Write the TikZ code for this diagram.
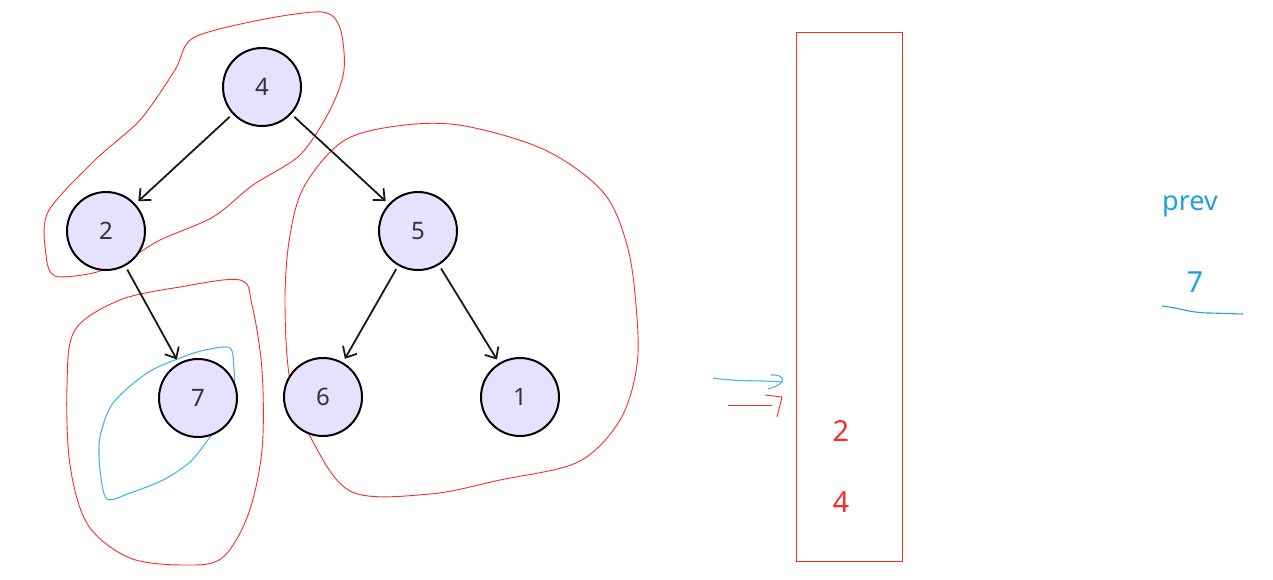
\documentclass[tikz,border=0pt]{standalone}
\usepackage{fontspec}
\setmainfont{Noto Sans}
\usetikzlibrary{arrows.meta}
\definecolor{nodefill}{HTML}{E6E1FF}
\definecolor{hred}{HTML}{FF2A2A}
\definecolor{hblue}{HTML}{1E9FE6}
\definecolor{lblue}{HTML}{45B4F0}
\tikzset{
  treenode/.style={circle,draw=black,line width=2pt,fill=nodefill,minimum size=78pt,inner sep=0pt,font=\fontsize{24}{26}\selectfont,text=black!80},
  edge/.style={draw=black!90,line width=1.8pt,-{Straight Barb[length=9pt,width=16pt,line width=1.8pt]},shorten <=4pt,shorten >=4pt},
  redink/.style={draw=hred,line width=0.9pt},
  blueink/.style={draw=lblue,line width=1.1pt},
  redtext/.style={text=hred,font=\fontsize{29}{30}\selectfont},
  bluetext/.style={text=hblue,font=\fontsize{29}{30}\selectfont}
}
\begin{document}
\begin{tikzpicture}[x=1pt,y=-1pt]
\useasboundingbox (0,0) rectangle (1273,579);
% red hand loops
\draw[redink] plot[smooth cycle,tension=0.5] coordinates {(193,38) (260,20) (322,12) (340,28) (344,70) (330,110) (300,155) (253,185) (213,217) (160,240) (127,260) (93,273) (55,276) (46,255) (48,212) (95,160) (140,120) (175,70)};
\draw[redink] plot[smooth cycle,tension=0.55] coordinates {(75,330) (120,300) (180,287) (240,280) (252,305) (262,370) (262,450) (248,515) (222,558) (185,565) (130,558) (88,525) (70,465) (67,385)};
\draw[redink] plot[smooth cycle,tension=0.55] coordinates {(305,185) (345,140) (405,125) (465,126) (545,150) (603,192) (627,245) (636,305) (637,365) (620,420) (578,462) (500,480) (430,494) (352,492) (312,440) (290,380) (285,300) (290,235)};
% blue loop around 7
\draw[blueink] plot[smooth cycle,tension=0.5] coordinates {(230,348) (234,370) (234,390) (226,412) (210,437) (190,462) (163,480) (130,493) (107,499) (100,470) (100,437) (113,403) (147,373) (180,358) (205,350)};
% tree
\node[treenode] (n4) at (262,87) {4};
\node[treenode] (n2) at (106,231) {2};
\node[treenode] (n5) at (418,231) {5};
\node[treenode] (n7) at (198,398) {7};
\node[treenode] (n6) at (323,397) {6};
\node[treenode] (n1) at (520,397) {1};
\draw[edge] (n4) -- (n2);
\draw[edge] (n4) -- (n5);
\draw[edge] (n2) -- (n7);
\draw[edge] (n5) -- (n6);
\draw[edge] (n5) -- (n1);
% stack
\node[draw=hred,line width=0.9pt,minimum width=106pt,minimum height=529pt,inner sep=0pt] (stack) at (849,296.5) {};
\node[redtext] (s2) at (841,431) {2};
\node[redtext] (s4) at (841,502) {4};
% hand arrows
\coordinate (ba) at (713,378);
\coordinate (bb) at (782,382);
\draw[blueink] (ba) .. controls (740,382) and (760,380) .. (bb);
\draw[blueink] (771,375) .. controls (782,374) and (784,380) .. (bb) .. controls (778,386) and (772,388) .. (768,389);
\coordinate (ra) at (728,405);
\coordinate (rb) at (772,405);
\draw[redink] (ra) -- (rb);
\draw[redink] (765,395) -- (782,397) -- (777,417);
% prev
\node[bluetext,font=\fontsize{27}{28}\selectfont] (prev) at (1190,206) {prev};
\node[bluetext] (pv) at (1195,282) {7};
\coordinate (u1) at (1162,306);
\coordinate (u2) at (1243,314);
\draw[draw=hblue,line width=1.1pt] (u1) .. controls (1180,308) and (1190,313) .. (1210,313) -- (u2);
\end{tikzpicture}
\end{document}
